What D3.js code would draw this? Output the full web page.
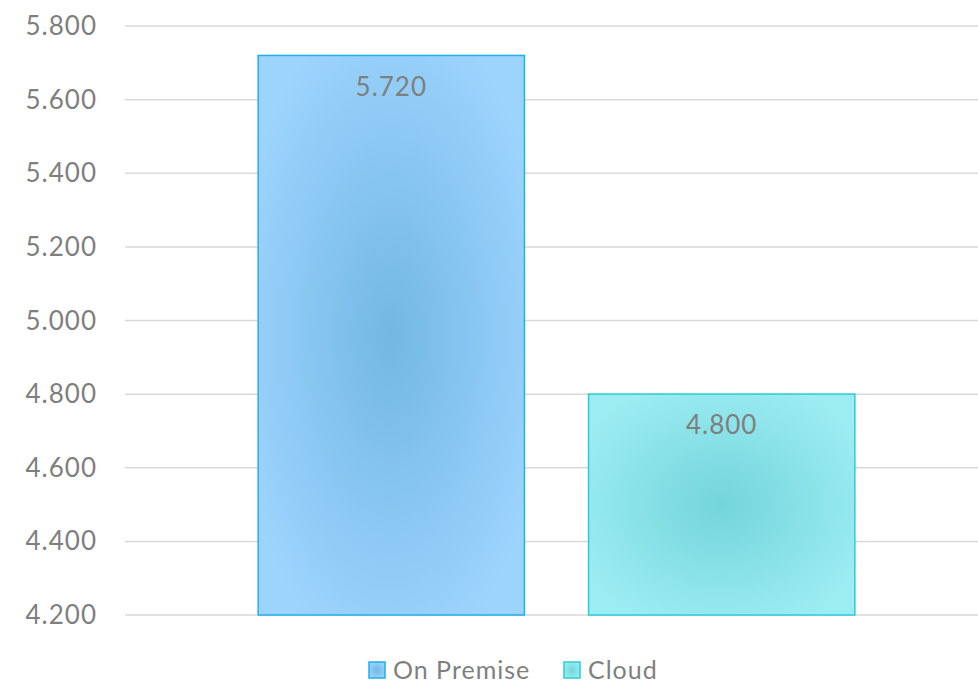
<!DOCTYPE html>
<html>
<head>
<meta charset="utf-8">
<title>On Premise vs Cloud</title>
<script src="https://cdn.jsdelivr.net/npm/d3@7"></script>
<style>
  body { margin: 0; background: #fff; }
  svg text { font-family: Lato, "Noto Sans", sans-serif; fill: #7f7f7f; letter-spacing: 1px; }
</style>
</head>
<body>
<svg id="chart" width="978" height="684"></svg>
<script>
// data
var categories = ["On Premise", "Cloud"];
var values = [5.72, 4.8];
var tickValues = [4.2, 4.4, 4.6, 4.8, 5.0, 5.2, 5.4, 5.6, 5.8];
var outerColors = ["#9dd4fe", "#9cedf2"];
var innerColors = ["#72b8e3", "#73d5db"];
var borderColors = ["#20b0e6", "#2ccdd4"];

var svg = d3.select("#chart");
var plotLeft = 125, plotRight = 978, plotTop = 26, plotBottom = 615;

var y = d3.scaleLinear().domain([4.2, 5.8]).range([plotBottom, plotTop]);
var x = d3.scaleBand().domain(categories).range([plotLeft, 988])
  .paddingInner(0.194).paddingOuter(0.403);

// gridlines
svg.append("g").selectAll("line").data(tickValues).enter().append("line")
  .attr("x1", plotLeft).attr("x2", plotRight)
  .attr("y1", function(d) { return y(d); }).attr("y2", function(d) { return y(d); })
  .attr("stroke", "#d9d9d9").attr("stroke-width", 1.5);

// y labels
var fmt = d3.format(".3f");
svg.append("g").selectAll("text").data(tickValues).enter().append("text")
  .attr("x", 97).attr("y", function(d) { return y(d); })
  .attr("dy", "0.35em").attr("text-anchor", "end")
  .style("font-size", "26px")
  .text(function(d) { return fmt(d); });

// gradients
var defs = svg.append("defs");
categories.forEach(function(c, i) {
  var g = defs.append("radialGradient").attr("id", "grad" + i)
    .attr("cx", "50%").attr("cy", "50%").attr("r", "60%");
  g.append("stop").attr("offset", "0%").attr("stop-color", innerColors[i]);
  g.append("stop").attr("offset", "100%").attr("stop-color", outerColors[i]);
});

// bars
svg.append("g").selectAll("rect").data(values).enter().append("rect")
  .attr("x", function(d, i) { return x(categories[i]); })
  .attr("width", x.bandwidth())
  .attr("y", function(d) { return y(d); })
  .attr("height", function(d) { return y(4.2) - y(d); })
  .attr("fill", function(d, i) { return "url(#grad" + i + ")"; })
  .attr("stroke", function(d, i) { return borderColors[i]; })
  .attr("stroke-width", 1.5);

// value labels
svg.append("g").selectAll("text").data(values).enter().append("text")
  .attr("x", function(d, i) { return x(categories[i]) + x.bandwidth() / 2; })
  .attr("y", function(d) { return y(d) + 31; })
  .attr("dy", "0.35em").attr("text-anchor", "middle")
  .style("font-size", "26px")
  .text(function(d) { return fmt(d); });

// legend
var legendX = [369, 564];
var lg = svg.append("g").selectAll("g").data(categories).enter().append("g")
  .attr("transform", function(d, i) { return "translate(" + legendX[i] + ",662)"; });
lg.append("rect").attr("width", 16).attr("height", 16)
  .attr("fill", function(d, i) { return "url(#grad" + i + ")"; })
  .attr("stroke", function(d, i) { return borderColors[i]; })
  .attr("stroke-width", 1.5);
lg.append("text").attr("x", 24).attr("y", 8).attr("dy", "0.35em")
  .style("font-size", "25px")
  .text(function(d) { return d; });
</script>
</body>
</html>
